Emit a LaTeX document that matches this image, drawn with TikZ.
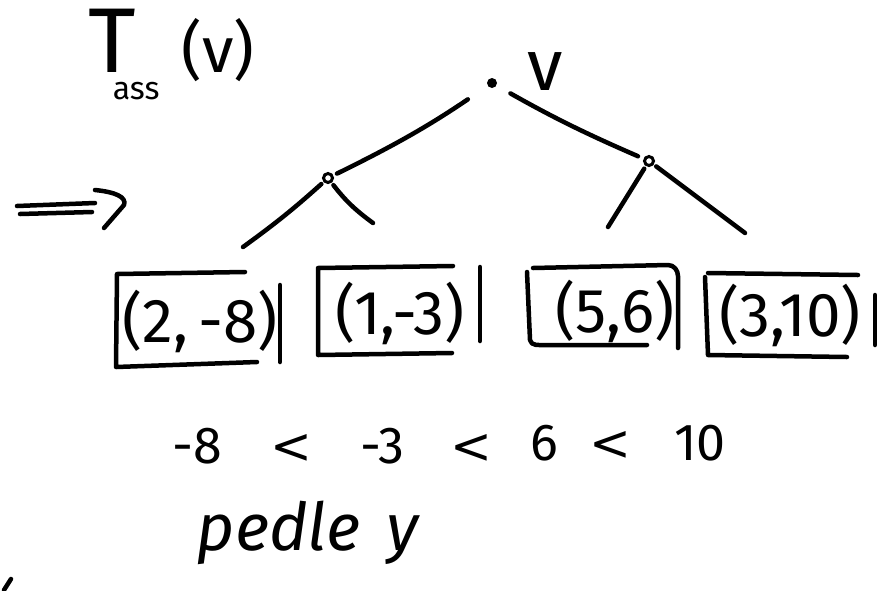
\documentclass[tikz,border=0pt]{standalone}
\usepackage{fontspec}
\setmainfont{Fira Sans}
\newfontfamily\relfont{DejaVu Sans}
\begin{document}
\begin{tikzpicture}[x=1pt,y=-1pt,
  ink/.style={line width=4.5pt,line cap=round,line join=round},
  edge/.style={ink},
  frame/.style={ink},
  txt/.style={inner sep=0pt,anchor=base},
  big/.style={txt,font=\fontsize{62}{70}\selectfont},
  ineq/.style={txt,font=\fontsize{52}{60}\selectfont},
  rel/.style={txt,font=\relfont\fontsize{50}{60}\selectfont},
  inode/.style={circle,draw,line width=3pt,inner sep=0pt,minimum size=9pt}]
\useasboundingbox (0,0) rectangle (886,590);

% title
\node[txt,anchor=base west] (title) at (88,72)
  {\fontsize{92}{100}\selectfont T\kern-0.25em\raisebox{-27pt}{\fontsize{32}{36}\selectfont ass}\kern 22pt\fontsize{64}{70}\selectfont(v)};

% tree
\node[circle,fill,inner sep=0pt,minimum size=10pt] (root) at (492,83) {};
\node[txt,font=\fontsize{72}{80}\selectfont] (vlab) at (545,90) {v};
\node[inode] (L) at (328,178) {};
\node[inode] (R) at (649,161) {};
\coordinate (L1) at (243,247);
\coordinate (L2) at (373,223);
\coordinate (R1) at (608,227);
\coordinate (R2) at (745,233);
\draw[edge,shorten <=24pt,shorten >=4pt] (root) to[bend left=4] (L);
\draw[edge,shorten <=16pt,shorten >=6pt] (root) to[bend left=-3] (R);
\draw[edge,shorten <=3pt] (L) to[bend left=3] (L1);
\draw[edge,shorten <=3pt] (L) to[bend right=8] (L2);
\draw[edge,shorten <=3pt] (R) -- (R1);
\draw[edge,shorten <=3pt] (R) -- (R2);

% implication arrow
\coordinate (a1) at (17,206);
\coordinate (a2) at (95,203);
\coordinate (a3) at (20,214);
\coordinate (a4) at (92,212);
\coordinate (h1) at (95,190);
\coordinate (h2) at (124,205);
\coordinate (h3) at (104,228);
\draw[ink] (a1) -- (a2);
\draw[ink] (a3) -- (a4);
\draw[ink] (h1) .. controls (115,192) and (127,197) .. (h2) -- (h3);

% leaf boxes
\node[big] (b1) at (200,342) {(2,\,-8)};
\draw[frame] (245,272) -- (117,274) -- (116,367) -- (257,362);
\draw[frame] (280,285) -- (280,362);

\node[big] (b2) at (400,334) {(1,-3)};
\draw[frame] (453,266) -- (318,268) -- (318,355) -- (452,353);
\draw[frame] (480,267) -- (480,341);

\node[big] (b3) at (615,332) {(5,6)};
\draw[frame] (533,268) -- (668,265) to[out=0,in=90] (678,276) -- (678,348);
\draw[frame] (527,272) -- (530,340) to[out=-80,in=180] (545,345) -- (647,345);

\node[big] (b4) at (790,336) {(3,10)};
\draw[frame] (708,273) -- (858,275);
\draw[frame] (705,277) -- (708,355) -- (847,357);
\draw[frame] (875,295) -- (875,345);

% ordering
\node[ineq] (i1) at (197,463) {-8};
\node[rel] (i2) at (291,463) {<};
\node[ineq] (i3) at (382,463) {-3};
\node[rel] (i4) at (471,463) {<};
\node[ineq] (i5) at (544,460) {6};
\node[rel] (i6) at (610,460) {<};
\node[ineq] (i7) at (700,460) {10};

% caption
\node[txt,font=\fontsize{66}{74}\selectfont\itshape] (cap) at (308,550) {pedle\hspace{0.4em}y};

% stray stroke
\draw[ink] (4,590) -- (11,579);
\end{tikzpicture}
\end{document}
